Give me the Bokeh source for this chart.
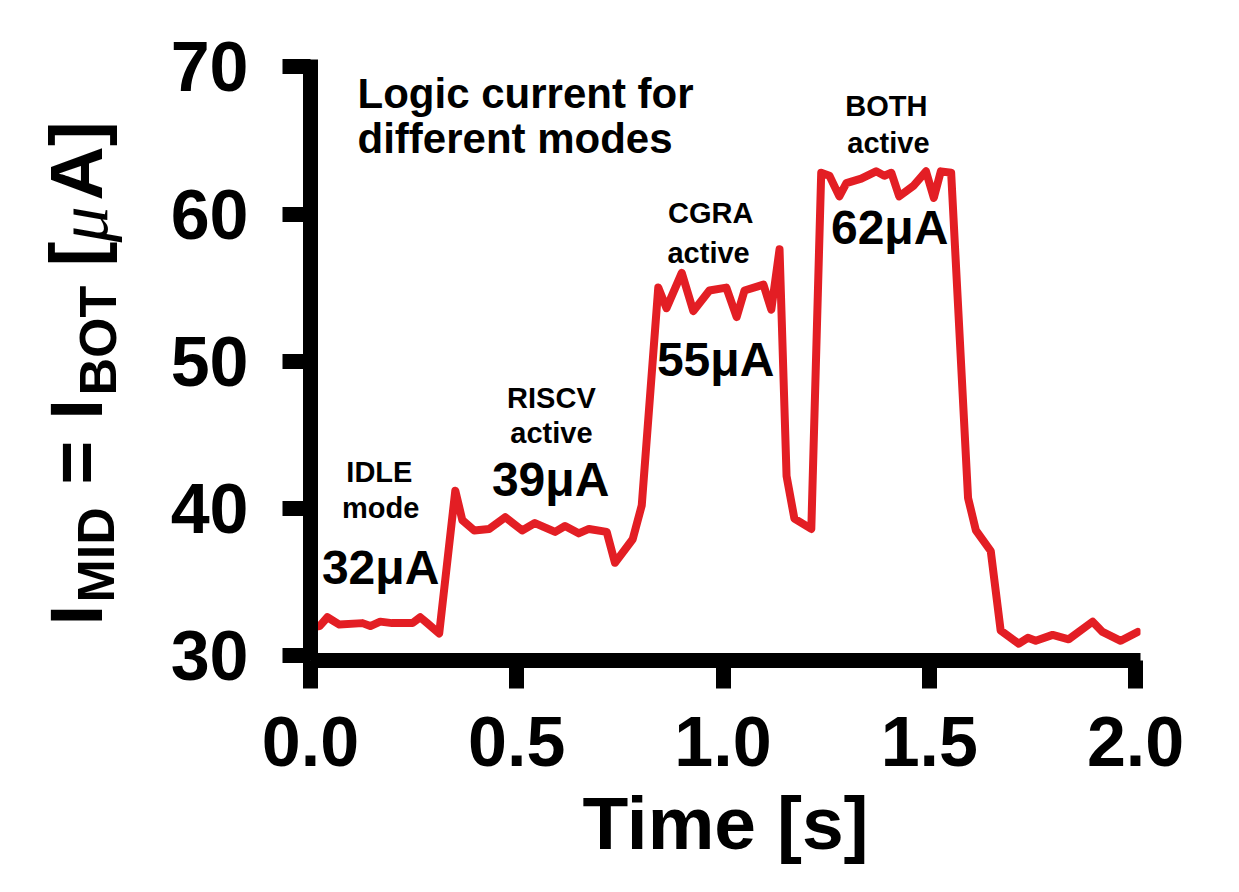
import math
from bokeh.plotting import figure
from bokeh.layouts import row
from bokeh.models import Label, FixedTicker, NumeralTickFormatter, Range1d
from bokeh.embed import file_html
from bokeh.resources import INLINE

# ---- data ----
time_s = [0.0, 0.022, 0.041, 0.07, 0.126, 0.145, 0.169, 0.198, 0.247, 0.266,
          0.283, 0.312, 0.351, 0.368, 0.397, 0.433, 0.472, 0.513, 0.544, 0.593,
          0.617, 0.650, 0.675, 0.718, 0.738, 0.781, 0.803, 0.843, 0.863, 0.900,
          0.928, 0.967, 1.008, 1.033, 1.052, 1.098, 1.117, 1.137, 1.154, 1.173,
          1.214, 1.238, 1.258, 1.282, 1.299, 1.335, 1.371, 1.391, 1.408, 1.427,
          1.461, 1.492, 1.511, 1.528, 1.553, 1.594, 1.613, 1.649, 1.673, 1.717,
          1.739, 1.758, 1.799, 1.838, 1.896, 1.920, 1.964, 2.005]
current_uA = [31.9, 32.0, 32.6, 32.1, 32.2, 32.0, 32.3, 32.2, 32.2, 32.6,
              32.2, 31.5, 41.2, 39.2, 38.5, 38.6, 39.4, 38.5, 39.0, 38.4,
              38.8, 38.3, 38.6, 38.4, 36.3, 37.9, 40.2, 55.0, 53.6, 56.0,
              53.4, 54.8, 55.0, 53.0, 54.8, 55.2, 53.5, 57.6, 42.2, 39.3,
              38.6, 62.8, 62.6, 61.2, 62.1, 62.4, 62.9, 62.6, 62.8, 61.2,
              61.9, 62.9, 61.1, 62.9, 62.8, 40.7, 38.5, 37.1, 31.7, 30.8,
              31.2, 31.0, 31.4, 31.1, 32.3, 31.6, 31.0, 31.6]

x_ticks = [0.0, 0.5, 1.0, 1.5, 2.0]
y_ticks = [30, 40, 50, 60, 70]

# annotations: (text, x [s], y [uA])
mode_titles = [("IDLE", 0.167, 42.50), ("mode", 0.170, 40.00),
               ("RISCV", 0.584, 47.49), ("active", 0.584, 45.15),
               ("CGRA", 0.970, 60.06), ("active", 0.965, 57.38),
               ("BOTH", 1.396, 67.33), ("active", 1.401, 64.82)]
mode_values = [("32μA", 0.170, 36.01), ("39μA", 0.582, 41.96),
               ("55μA", 0.982, 50.11), ("62μA", 1.404, 59.10)]
heading_lines = [("Logic current for", 0.114, 68.18),
                 ("different modes", 0.114, 65.12)]

FONT = "Liberation Sans"
TOTAL_W, H = 1235, 890
LEFT_W = 140
FRAME_TOP, FRAME_BOTTOM = 59, 660   # pixel rows of the plotting area

# ---------------- main chart ----------------
p = figure(width=TOTAL_W - LEFT_W, height=H, output_backend="svg",
           toolbar_location=None,
           x_range=Range1d(0.0, 2.012), y_range=Range1d(29.66, 70.5),
           min_border_left=310 - LEFT_W, min_border_right=95,
           min_border_top=FRAME_TOP, min_border_bottom=H - FRAME_BOTTOM)
p.outline_line_color = None
p.xgrid.visible = False
p.ygrid.visible = False
p.background_fill_color = "white"
p.border_fill_color = "white"

p.line(time_s, current_uA, line_color="#e31e24", line_width=8,
       line_join="round", line_cap="round")

for ax in (p.xaxis[0], p.yaxis[0]):
    ax.axis_line_width = 15
    ax.axis_line_color = "black"
    ax.major_tick_line_width = 15
    ax.major_tick_line_color = "black"
    ax.major_tick_out = 28
    ax.major_tick_in = 0
    ax.minor_tick_out = 0
    ax.minor_tick_in = 0
    ax.major_label_text_font = FONT
    ax.major_label_text_font_style = "bold"
    ax.major_label_text_font_size = "70px"
    ax.major_label_text_color = "black"

p.xaxis.ticker = FixedTicker(ticks=x_ticks)
p.yaxis.ticker = FixedTicker(ticks=y_ticks)
p.xaxis.formatter = NumeralTickFormatter(format="0.0")
p.yaxis.formatter = NumeralTickFormatter(format="0")
p.xaxis.major_label_standoff = 28
p.yaxis.major_label_standoff = 34

p.xaxis.axis_label = "Time [s]"
p.xaxis.axis_label_text_font = FONT
p.xaxis.axis_label_text_font_style = "bold"
p.xaxis.axis_label_text_font_size = "75px"
p.xaxis.axis_label_text_color = "black"
p.xaxis.axis_label_standoff = 12


def add_label(fig, text, x, y, size, align="center", style="bold", angle=0.0,
              font=FONT):
    fig.add_layout(Label(x=x, y=y, text=text, text_font=font,
                         text_font_style=style, text_font_size=f"{size}px",
                         text_color="black", text_align=align,
                         text_baseline="middle", angle=angle))


for t, x, y in heading_lines:
    add_label(p, t, x, y, 42, align="left")
for t, x, y in mode_titles:
    add_label(p, t, x, y, 29)
for t, x, y in mode_values:
    add_label(p, t, x, y, 48)

# ---------------- y-axis title panel (with subscripts) ----------------
# its plotting area is aligned with the main one; y is measured in pixels
# from the bottom of the page image
ylab = figure(width=LEFT_W, height=H, output_backend="svg", toolbar_location=None,
              x_range=Range1d(0, LEFT_W),
              y_range=Range1d(H - FRAME_BOTTOM, H - FRAME_TOP),
              x_axis_location=None, y_axis_location=None,
              min_border=0)
ylab.outline_line_color = None
ylab.xgrid.visible = False
ylab.ygrid.visible = False
ylab.background_fill_color = "white"
ylab.border_fill_color = "white"

up = math.pi / 2
# (text, x centre of caps [px], start row [px from page top], size, style, font)
ylabel_parts = [("I", 75, 625, 75, "bold", FONT),
                ("MID", 95, 602, 52, "bold", FONT),
                ("= I", 75, 484, 75, "bold", FONT),
                ("BOT", 97, 395, 52, "bold", FONT),
                ("[", 75, 266, 75, "bold", FONT),
                ("μ", 82, 242, 72, "italic", "Liberation Serif"),
                ("A]", 75, 200, 75, "bold", FONT)]
for t, x, py, s, st, f in ylabel_parts:
    add_label(ylab, t, x, H - py, s, align="left", style=st, angle=up, font=f)

layout = row(ylab, p, spacing=0)
open("out.html", "w").write(file_html(layout, INLINE))
